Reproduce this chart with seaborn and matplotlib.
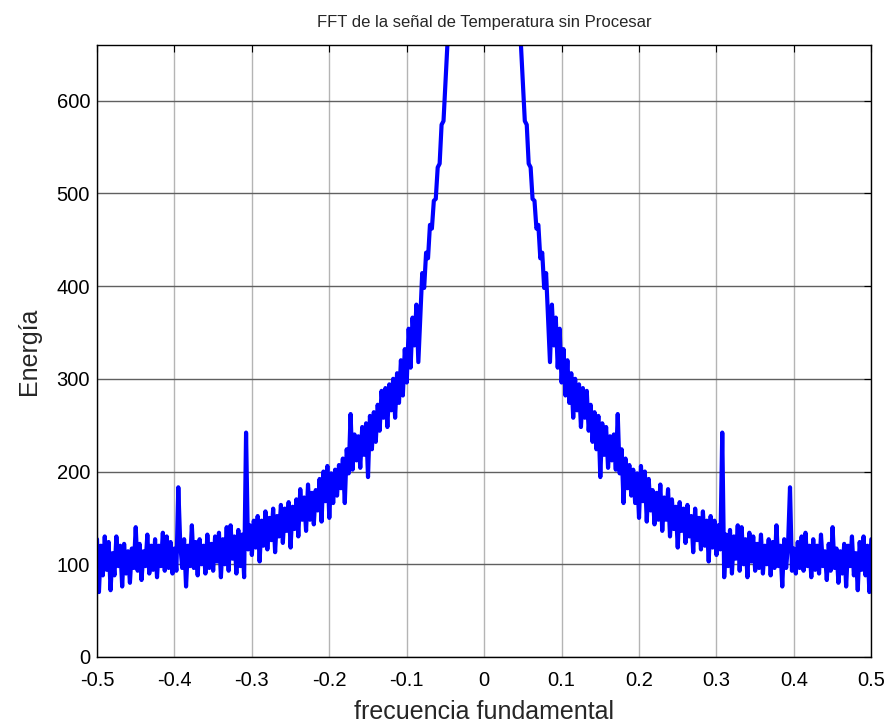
# FFT de la señal de temperatura (sin procesar)
import numpy as np
import pandas as pd
import matplotlib
matplotlib.use('Agg')
import matplotlib.pyplot as plt
import seaborn as sns

# valores (mitad positiva, el espectro es simetrico)
center_freq = [0.0, 0.02, 0.04]
center_energy = [20000, 1800, 950]

step = 0.0025
start = 0.045
pos_energy = [
    720, 660, 618, 578, 574, 532, 528, 494, 492, 462,
    466, 430, 436, 398, 414, 365, 318, 380, 336, 366,
    312, 354, 296, 332, 282, 320, 274, 306, 258, 300,
    266, 294, 248, 290, 258, 287, 244, 272, 232, 264,
    224, 260, 194, 252, 218, 248, 204, 238, 212, 240,
    202, 262, 198, 224, 166, 214, 182, 207, 174, 202,
    166, 198, 150, 206, 168, 200, 146, 192, 158, 180,
    143, 177, 148, 186, 136, 172, 148, 181, 130, 170,
    138, 162, 118, 167, 136, 160, 123, 164, 130, 152,
    113, 160, 126, 150, 116, 157, 120, 147, 103, 152,
    118, 147, 110, 142, 116, 242, 86, 132, 98, 137,
    90, 130, 106, 142, 93, 140, 100, 127, 86, 134,
    103, 130, 93, 122, 96, 132, 90, 120, 100, 127,
    88, 124, 96, 142, 98, 120, 76, 127, 96, 122,
    183, 93, 117, 90, 124, 96, 130, 93, 134, 98,
    120, 86, 127, 94, 120, 90, 132, 98, 114, 83,
    122, 93, 140, 96, 117, 80, 114, 90, 122, 76,
    120, 98, 130, 88, 112, 72, 124, 94, 130, 88,
    120, 70, 127,
]

freq_pos = np.array(center_freq + list(start + step * np.arange(len(pos_energy))))
energy_pos = np.array(center_energy + pos_energy, dtype=float)

freq = np.concatenate([-freq_pos[:0:-1], freq_pos])
energy = np.concatenate([energy_pos[:0:-1], energy_pos])
df = pd.DataFrame({'frecuencia': freq, 'energia': energy})

sns.set_style('white')
plt.rcParams['font.family'] = ['Liberation Sans', 'DejaVu Sans']

fig = plt.figure(figsize=(8.9, 7.23), dpi=100)
ax = fig.add_axes([0.109, 0.0913, 0.870, 0.8465])
sns.lineplot(data=df, x='frecuencia', y='energia', color='#0000ff',
             linewidth=3, estimator=None, sort=False, ax=ax)

ax.set_xlim(-0.5, 0.5)
ax.set_ylim(0, 660)
ax.set_xticks(np.arange(-0.5, 0.51, 0.1))
ax.set_xticklabels(['-0.5', '-0.4', '-0.3', '-0.2', '-0.1', '0',
                    '0.1', '0.2', '0.3', '0.4', '0.5'])
ax.set_yticks(range(0, 700, 100))
ax.xaxis.grid(True, color='#b4b4b4', linewidth=1)
ax.yaxis.grid(True, color='#606060', linewidth=1)
ax.set_axisbelow(True)
ax.tick_params(direction='in', length=5, top=True, right=True,
               labelsize=14.5, colors='black')
ax.tick_params(axis='x', pad=10)
ax.tick_params(axis='y', pad=5)
for s in ax.spines.values():
    s.set_color('black')
    s.set_linewidth(1)

ax.set_title('FFT de la señal de Temperatura sin Procesar', fontsize=12, pad=13)
ax.set_xlabel('frecuencia fundamental', fontsize=18, labelpad=7)
ax.set_ylabel('Energía', fontsize=18, labelpad=11)

fig.savefig('out.png', dpi=100)
